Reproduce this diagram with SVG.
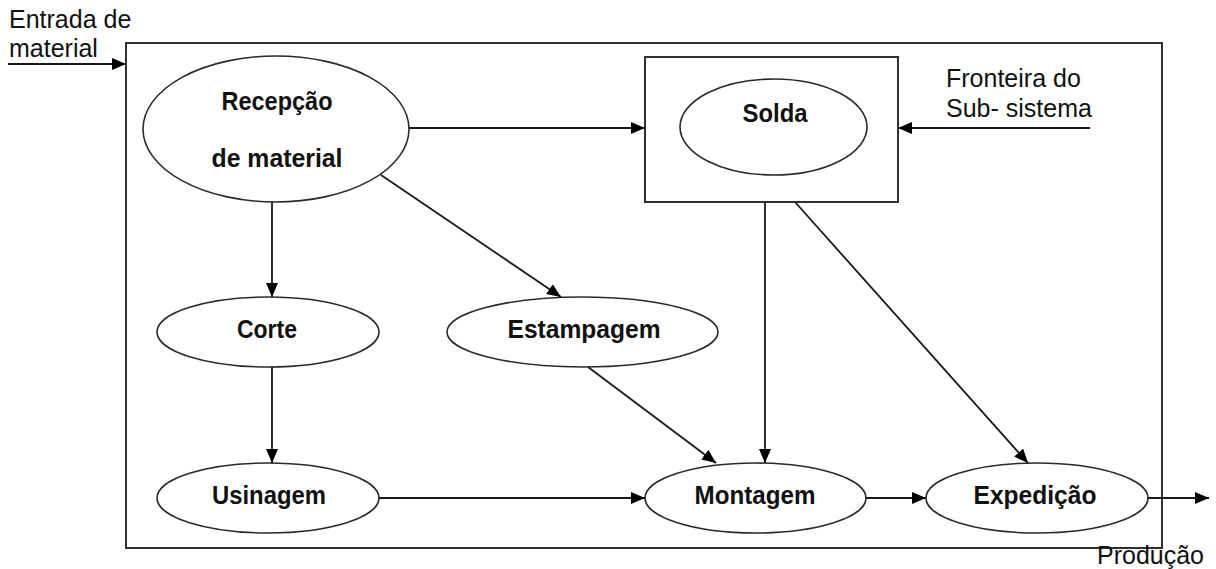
<svg xmlns="http://www.w3.org/2000/svg" width="1216" height="569" viewBox="0 0 1216 569">
  <style>
    .node { fill: #ffffff; stroke: #2a2a2a; stroke-width: 1.6; }
    .frame { fill: none; stroke: #303030; stroke-width: 2; }
    .edge { fill: none; stroke: #1a1a1a; stroke-width: 1.8; marker-end: url(#arrow); }
    .label { font-family: "Liberation Sans", Arial, sans-serif; font-size: 26px; font-weight: bold; fill: #111111; text-anchor: middle; }
    .note { font-family: "Liberation Sans", Arial, sans-serif; font-size: 25px; fill: #111111; }
  </style>
  <defs>
    <marker id="arrow" markerUnits="userSpaceOnUse" markerWidth="14" markerHeight="12" refX="14" refY="6" orient="auto">
      <path d="M0,0 L14,6 L0,12 z" fill="#000000"/>
    </marker>
  </defs>
  <rect width="1216" height="569" fill="#ffffff"/>

  <!-- system boundary -->
  <g id="sistema">
    <rect class="frame" x="126" y="43" width="1036" height="505"/>
  </g>

  <!-- sub-system boundary around welding -->
  <g id="subsistema">
    <rect class="frame" x="645" y="57" width="253" height="145"/>
  </g>

  <g id="recepcao">
    <ellipse class="node" cx="276" cy="129" rx="133" ry="73"/>
    <text class="label" x="277" y="110" textLength="111" lengthAdjust="spacingAndGlyphs">Recepção</text>
    <text class="label" x="277" y="167" textLength="131" lengthAdjust="spacingAndGlyphs">de material</text>
  </g>

  <g id="solda">
    <ellipse class="node" cx="773.5" cy="127" rx="93.5" ry="48"/>
    <text class="label" x="775" y="122" textLength="65" lengthAdjust="spacingAndGlyphs">Solda</text>
  </g>

  <g id="corte">
    <ellipse class="node" cx="268" cy="332" rx="111" ry="35"/>
    <text class="label" x="267" y="338" textLength="60" lengthAdjust="spacingAndGlyphs">Corte</text>
  </g>

  <g id="estampagem">
    <ellipse class="node" cx="582.5" cy="332" rx="135.5" ry="35"/>
    <text class="label" x="584" y="338" textLength="153" lengthAdjust="spacingAndGlyphs">Estampagem</text>
  </g>

  <g id="usinagem">
    <ellipse class="node" cx="268" cy="498" rx="111" ry="35"/>
    <text class="label" x="269" y="504" textLength="114" lengthAdjust="spacingAndGlyphs">Usinagem</text>
  </g>

  <g id="montagem">
    <ellipse class="node" cx="755.5" cy="498" rx="110.5" ry="35"/>
    <text class="label" x="755" y="504" textLength="121" lengthAdjust="spacingAndGlyphs">Montagem</text>
  </g>

  <g id="expedicao">
    <ellipse class="node" cx="1037" cy="498" rx="111" ry="35"/>
    <text class="label" x="1035" y="504" textLength="123" lengthAdjust="spacingAndGlyphs">Expedição</text>
  </g>

  <!-- free labels -->
  <g id="rotulos">
    <text class="note" x="9" y="28">Entrada de</text>
    <text class="note" x="9" y="57">material</text>
    <text class="note" x="946" y="87">Fronteira do</text>
    <text class="note" x="946" y="117">Sub- sistema</text>
    <text class="note" x="1097" y="564">Produção</text>
  </g>

  <g id="conectores">
    <line class="edge" x1="8" y1="64" x2="126" y2="64"/>
    <line class="edge" x1="409" y1="128" x2="645" y2="128"/>
    <line class="edge" x1="1090" y1="128" x2="898" y2="128"/>
    <line class="edge" x1="272" y1="202" x2="272" y2="297"/>
    <line class="edge" x1="381" y1="175" x2="561" y2="297"/>
    <line class="edge" x1="272" y1="367" x2="272" y2="463"/>
    <line class="edge" x1="588" y1="367" x2="716" y2="463"/>
    <line class="edge" x1="765" y1="202" x2="765" y2="463"/>
    <line class="edge" x1="795" y1="202" x2="1028" y2="463"/>
    <line class="edge" x1="379" y1="498" x2="645" y2="498"/>
    <line class="edge" x1="866" y1="498" x2="926" y2="498"/>
    <line class="edge" x1="1148" y1="498" x2="1209" y2="498"/>
  </g>
</svg>
